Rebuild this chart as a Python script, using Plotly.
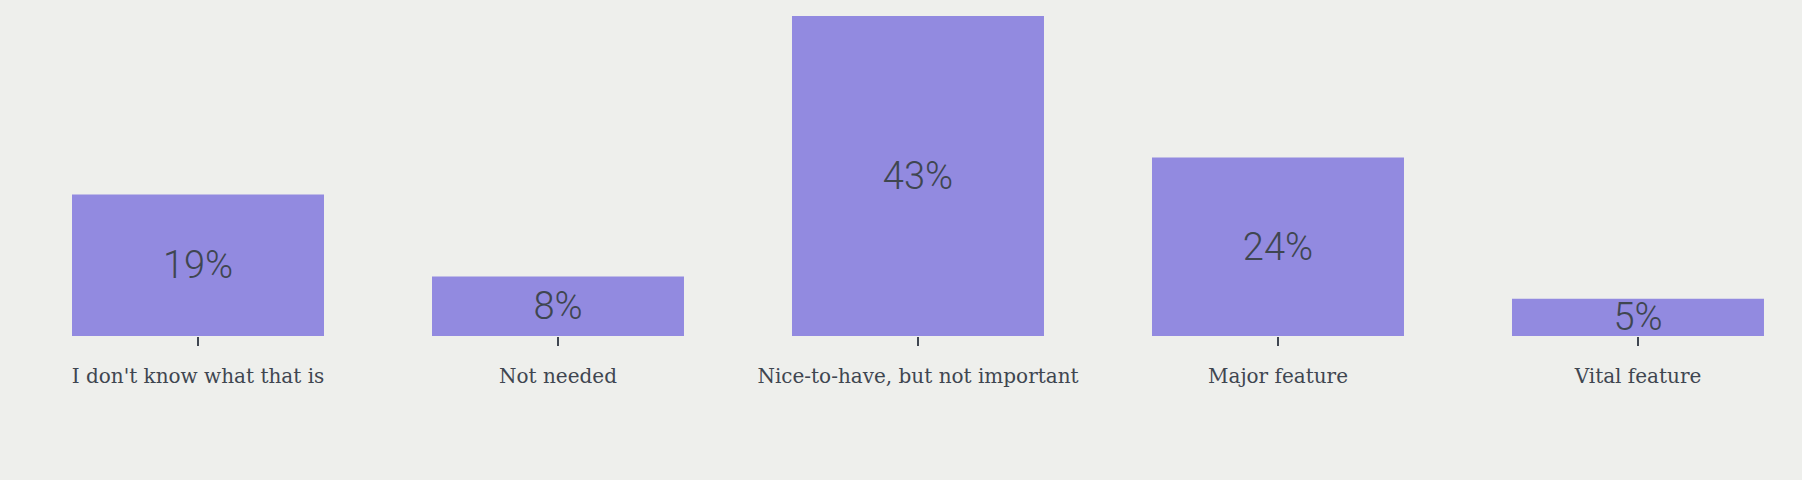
import plotly.graph_objects as go

categories = [
    "I don't know what that is",
    "Not needed",
    "Nice-to-have, but not important",
    "Major feature",
    "Vital feature",
]
shares = [19, 8, 43, 24, 5]
labels = [f"{v}%" for v in shares]

BG = "#eeefec"
BAR = "#928ae0"
INK = "#3f4650"

fig = go.Figure(
    go.Bar(
        x=categories,
        y=shares,
        text=labels,
        textposition="inside",
        insidetextanchor="middle",
        constraintext="none",
        textfont=dict(family="Roboto", size=38, color=INK, weight=300),
        marker=dict(color=BAR, line=dict(width=0)),
        hoverinfo="skip",
    )
)

fig.update_xaxes(
    range=[-0.55, 4.4556],
    showgrid=False,
    zeroline=False,
    showline=False,
    ticks="outside",
    ticklen=9,
    tickwidth=1.5,
    tickcolor=INK,
    ticklabelstandoff=13,
    tickfont=dict(family="DejaVu Serif", size=20, color=INK),
)
fig.update_yaxes(range=[0, 45.15], visible=False)

fig.update_layout(
    width=1802,
    height=480,
    bargap=0.3,
    margin=dict(l=0, r=0, t=0, b=144),
    paper_bgcolor=BG,
    plot_bgcolor=BG,
    showlegend=False,
)

# drop the browser's default 8px body margin so the chart sits flush
fig.write_html(
    "out.html",
    config={"displayModeBar": False},
    post_script="document.body.style.margin='0';document.body.style.background='%s';" % BG,
)
